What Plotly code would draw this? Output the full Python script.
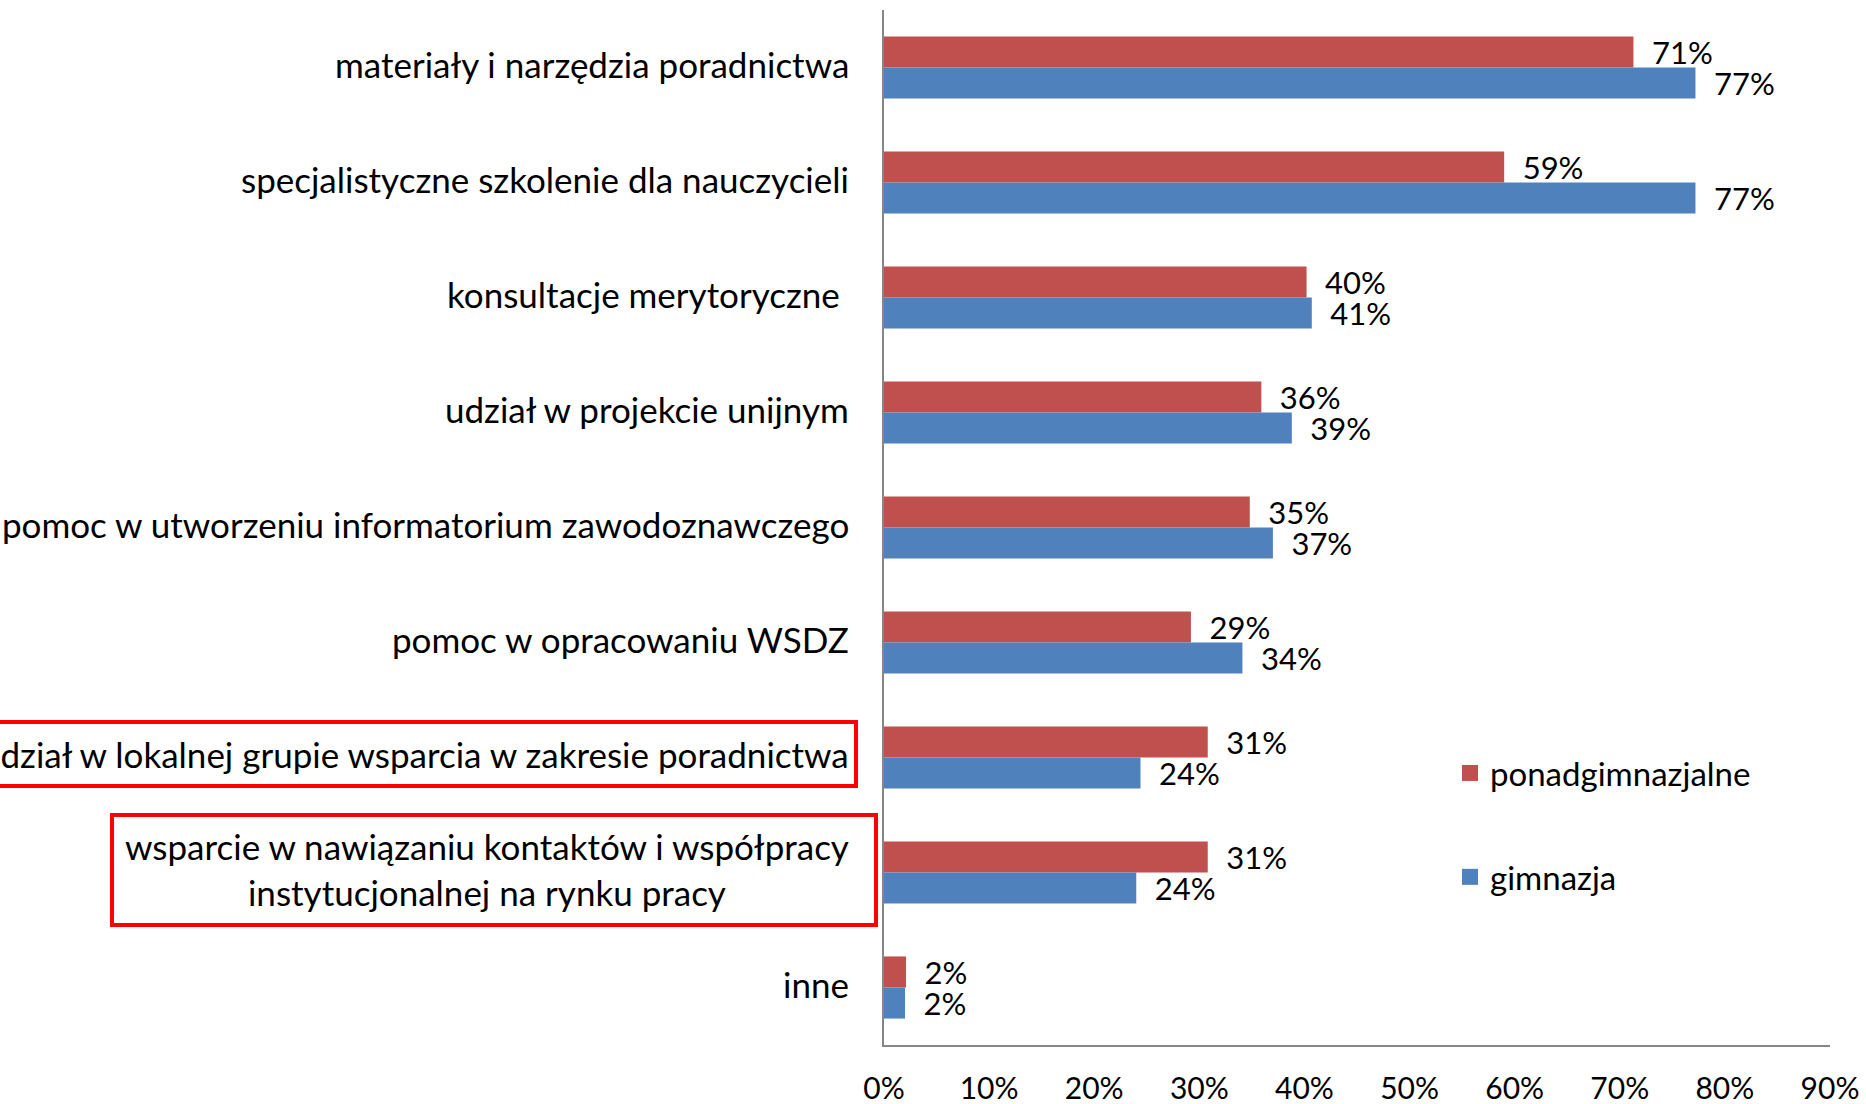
import plotly.graph_objects as go

categories = [
    "materiały i narzędzia poradnictwa",
    "specjalistyczne szkolenie dla nauczycieli",
    "konsultacje merytoryczne\u00a0",
    "udział w projekcie unijnym",
    "pomoc w utworzeniu informatorium zawodoznawczego",
    "pomoc w opracowaniu WSDZ",
    "udział w lokalnej grupie wsparcia w zakresie poradnictwa",
    "wsparcie w nawiązaniu kontaktów i współpracy<br>instytucjonalnej na rynku pracy",
    "inne",
]
ponadgimnazjalne = [0.713, 0.59, 0.402, 0.359, 0.348, 0.292, 0.308, 0.308, 0.021]
gimnazja = [0.772, 0.772, 0.407, 0.388, 0.370, 0.341, 0.244, 0.240, 0.020]
x_ticks = [0, 0.1, 0.2, 0.3, 0.4, 0.5, 0.6, 0.7, 0.8, 0.9]
x_tick_labels = ["0%", "10%", "20%", "30%", "40%", "50%", "60%", "70%", "80%", "90%"]

RED = "#C0504D"
BLUE = "#4F81BD"
FONT = "Lato"

fig = go.Figure()
for name, vals, col in [("ponadgimnazjalne", ponadgimnazjalne, RED), ("gimnazja", gimnazja, BLUE)]:
    fig.add_trace(go.Bar(
        y=categories, x=vals, orientation="h", name=name,
        marker=dict(color=col, line=dict(width=0)),
        texttemplate="\u2002%{x:.0%}", textposition="outside",
        textfont=dict(family=FONT, size=31, color="#000"),
        constraintext="none", cliponaxis=False, showlegend=False,
    ))
for name, col in [("ponadgimnazjalne", RED), ("gimnazja", BLUE)]:
    fig.add_trace(go.Scatter(
        x=[None], y=[None], mode="markers", name=name, legendgroup=name,
        marker=dict(symbol="square", size=19, color=col),
    ))

for c in categories:
    fig.add_annotation(
        x=0, xref="paper", y=c, yref="y", text=c, showarrow=False,
        xanchor="right", yanchor="middle", align="center", xshift=-33, yshift=4,
        font=dict(family=FONT, size=35, color="#000"),
    )

W, H = 1866, 1104
L, R, T, B = 884, 36, 10, 59
pw, ph = W - L - R, H - T - B

def px2paper(px, py):
    return (px - L) / pw, (H - B - py) / ph

for (bx0, by0, bx1, by1) in [(-10, 722, 856, 786), (112, 815, 876, 925)]:
    x0, y0 = px2paper(bx0, by1)
    x1, y1 = px2paper(bx1, by0)
    fig.add_shape(type="rect", xref="paper", yref="paper", x0=x0, x1=x1, y0=y0, y1=y1,
                  line=dict(color="#FF0000", width=4), layer="above")

fig.update_layout(
    width=W, height=H,
    margin=dict(l=L, r=R, t=T, b=B, pad=0, autoexpand=False),
    paper_bgcolor="white", plot_bgcolor="white",
    barmode="group", bargap=0.46, bargroupgap=0,
    font=dict(family=FONT, size=30, color="#000"),
    showlegend=True,
    legend=dict(x=(1450 - L) / pw, y=(H - B - 745) / ph, xanchor="left", yanchor="top",
                traceorder="grouped", tracegroupgap=58,
                font=dict(family=FONT, size=33, color="#000"), bgcolor="rgba(0,0,0,0)"),
    xaxis=dict(range=[0, 0.9], tickvals=x_ticks, ticktext=x_tick_labels, automargin=False,
               showgrid=False, zeroline=False, showline=True, linecolor="#868686", linewidth=1.5,
               ticks="", ticklabelstandoff=16, tickfont=dict(family=FONT, size=30, color="#000")),
    yaxis=dict(autorange="reversed", showticklabels=False, showgrid=False, zeroline=False,
               automargin=False,
               showline=True, linecolor="#868686", linewidth=1.5, ticks=""),
)

fig.write_html("out.html", config={"displayModeBar": False},
               post_script="document.body.style.margin='0';document.body.style.overflow='hidden';")
